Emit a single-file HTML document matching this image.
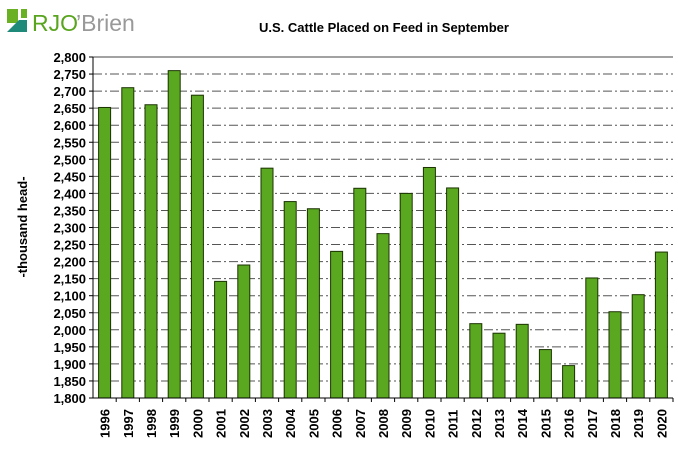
<!DOCTYPE html>
<html><head><meta charset="utf-8"><style>
body{margin:0;background:#fff;}
svg{display:block;font-family:"Liberation Sans",Arial,sans-serif;}
</style></head><body>
<svg id="chart" width="678" height="454" viewBox="0 0 678 454">
  <g>
    <rect x="7" y="9" width="11" height="14" fill="#6ab023"/>
    <polygon points="7,32 19,20 27,20 27,32" fill="#1f8a7a"/>
    <rect x="21" y="9" width="6" height="9" fill="#6ab023"/>
    <text x="32" y="31" font-size="23" fill="#5aa51f">RJO</text>
    <text x="76" y="31" font-size="23" fill="#999">’Brien</text>
  </g>
  <text x="384" y="32" font-size="13" font-weight="bold" text-anchor="middle" fill="#000">U.S. Cattle Placed on Feed in September</text>
  <text transform="translate(27,227) rotate(-90)" font-size="13" font-weight="bold" text-anchor="middle" fill="#000">-thousand head-</text>
  <g id="grid"></g><g id="bars"></g><g id="axes"></g>
</svg>
<script>
const categories=["1996","1997","1998","1999","2000","2001","2002","2003","2004","2005","2006","2007","2008","2009","2010","2011","2012","2013","2014","2015","2016","2017","2018","2019","2020"];
const values=[2652,2710,2660,2760,2688,2142,2190,2474,2376,2355,2230,2415,2282,2400,2476,2416,2018,1990,2016,1942,1895,2152,2053,2103,2228];
const yTicks=[1800,1850,1900,1950,2000,2050,2100,2150,2200,2250,2300,2350,2400,2450,2500,2550,2600,2650,2700,2750,2800];
const X0=93,X1=673,Y0=398,Y1=57,YMIN=1800,YMAX=2800;
const ns="http://www.w3.org/2000/svg";
const y=v=>Y0-(v-YMIN)/(YMAX-YMIN)*(Y0-Y1);
const bw=(X1-X0)/categories.length;
const x=i=>X0+bw*i;
function mk(t,a,p){const e=document.createElementNS(ns,t);for(const k in a)e.setAttribute(k,a[k]);p.appendChild(e);return e;}
const grid=document.getElementById('grid'),bars=document.getElementById('bars'),axes=document.getElementById('axes');
yTicks.forEach(t=>{
  if(t>YMIN){const l=mk('line',{x1:X0,x2:X1,y1:y(t),y2:y(t),stroke:t===YMAX?'#444':'#555','stroke-width':1,'stroke-dasharray':t===YMAX?'none':'9,3,2,3'},grid);
  
  }
  const tk=mk('line',{x1:X0-4,x2:X0,y1:y(t),y2:y(t),stroke:'#000'},axes);
  
  
  const tx=mk('text',{x:X0-7,y:y(t)+5,'font-size':13,'font-weight':'bold','text-anchor':'end'},axes);
  tx.textContent=t.toLocaleString('en-US');
  
  
});
values.forEach((v,i)=>{
  const r=mk('rect',{x:x(i)+bw/2-6,y:y(v),width:12,height:Y0-y(v),fill:'#5aa820',stroke:'#1a3300','stroke-width':1},bars);
  
  
  const tk=mk('line',{x1:x(i+1),x2:x(i+1),y1:Y0,y2:Y0+4,stroke:'#000'},axes);
  
  
  const tx=mk('text',{transform:`translate(${x(i)+bw/2+5},${Y0+40}) rotate(-90)`,'font-size':13,'font-weight':'bold','text-anchor':'start'},axes);
  tx.textContent=categories[i];
  
  
});
const ax=mk('line',{x1:X0,x2:X0,y1:Y1,y2:Y0,stroke:'#000'},axes);


const bx=mk('line',{x1:X0,x2:X1,y1:Y0,y2:Y0,stroke:'#000'},axes);


</script>
</body></html>
